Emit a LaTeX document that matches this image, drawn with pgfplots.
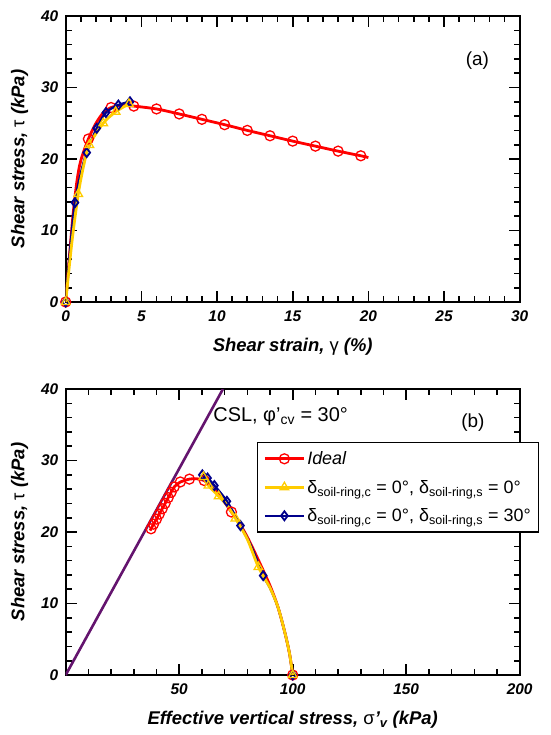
\documentclass[border=0pt]{standalone}
\usepackage{fontspec}
\setmainfont{Liberation Sans}
\usepackage{pgfplots}
\pgfplotsset{compat=1.18}

\definecolor{myred}{RGB}{255,0,0}
\definecolor{myyellow}{RGB}{255,204,0}
\definecolor{mynavy}{RGB}{0,0,140}
\definecolor{mypurple}{RGB}{100,20,110}

\pgfplotsset{
  common/.style={
    scale only axis, width=454bp, height=286bp,
    axis line style={line width=2bp},
    every tick/.style={line width=1.6bp, black},
    major tick length=11bp, minor tick length=6bp,
    tick align=inside,
    tick label style={font=\fontsize{15.5}{16}\selectfont\bfseries\itshape},
    /pgf/number format/assume math mode=true,
    xticklabel style={yshift=-5bp},
    yticklabel style={xshift=-4bp},
    ymin=0, ymax=40, ytick={0,10,20,30,40}, minor y tick num=4,
    every axis y label/.style={at={([xshift=-46bp]axis description cs:0,0.5)}, anchor=center, rotate=90,
      font=\fontsize{18.5}{19}\selectfont\bfseries\itshape},
    every axis x label/.style={at={([yshift=-45bp]axis description cs:0.5,0)}, anchor=center,
      font=\fontsize{18.5}{19}\selectfont\bfseries\itshape},
    legend image code/.code={
      \draw[#1,mark=none] (0bp,0bp) -- (39bp,0bp);
      \draw[#1,only marks] plot coordinates {(19.5bp,0bp)};
    },
  },
  redline/.style={myred, line width=2.8bp, mark=none, smooth},
  redmarks/.style={myred, only marks, mark=o, mark size=5bp, mark options={line width=1.3bp, fill=none}},
  yelline/.style={myyellow, line width=2.8bp, mark=none, smooth},
  yelmarks/.style={myyellow, only marks, mark=triangle, mark size=5bp, mark options={line width=1.3bp}},
  blueline/.style={mynavy, line width=2.4bp, mark=none, smooth},
  bluemarks/.style={mynavy, only marks, mark=diamond, mark size=4.5bp, mark options={line width=1.8bp}},
}

\begin{document}
\begin{tikzpicture}
\path[use as bounding box] (-65.7bp,-433bp) rectangle (485.3bp,302bp);

% ---------------- (a) ----------------
\begin{axis}[common,
  at={(0,0)}, anchor=south west,
  xmin=0, xmax=30, xtick={0,5,...,30}, minor x tick num=4,
  xlabel={Shear strain, {\mdseries\upshape γ} (\%)},
  ylabel={Shear stress, {\mdseries\upshape τ} (kPa)},
]
\addplot[redline] coordinates {(0,0) (0.25,6.5) (0.5,12.5) (0.75,17) (1.0,19.8) (1.5,22.8) (2,25) (2.5,26.5) (3,27.2) (3.5,27.45) (4,27.5) (4.5,27.4) (6,27.0) (7.5,26.3) (9,25.55) (10.5,24.8) (12,24.0) (13.5,23.25) (15,22.5) (16.5,21.8) (18,21.1) (19.5,20.45) (20,20.2)};
\addplot[redmarks] coordinates {(0,0) (1.5,22.8) (3,27.2) (4.5,27.4) (6,27.0) (7.5,26.3) (9,25.55) (10.5,24.8) (12,24.0) (13.5,23.25) (15,22.5) (16.5,21.8) (18,21.1) (19.5,20.45)};
\addplot[blueline] coordinates {(0,0) (0.3,7.5) (0.61,13.9) (1.0,18.0) (1.39,20.9) (2.05,24.3) (2.66,26.5) (3.48,27.55) (4.25,28.0)};
\addplot[bluemarks] coordinates {(0,0) (0.61,13.9) (1.39,20.9) (2.05,24.3) (2.66,26.5) (3.48,27.55) (4.25,28.0)};
\addplot[yelline] coordinates {(0,0) (0.4,8.2) (0.83,15.1) (1.2,19.2) (1.56,21.96) (2.48,25.0) (3.3,26.6) (4.18,27.7)};
\addplot[yelmarks] coordinates {(0,0) (0.83,15.1) (1.56,21.96) (2.48,25.0) (3.3,26.6) (4.18,27.7)};
\node[font=\fontsize{19}{20}\selectfont] at (axis cs:27.2,33.8) {(a)};
\end{axis}

% ---------------- (b) ----------------
\begin{axis}[common,
  at={(0,-373bp)}, anchor=south west,
  xmin=0, xmax=200, xtick={50,100,150,200}, minor xtick={10,20,30,40,60,70,80,90,110,120,130,140,160,170,180,190},
  xlabel={Effective vertical stress, {\mdseries\upshape σ}'\textsubscript{v} (kPa)},
  ylabel={Shear stress, {\mdseries\upshape τ} (kPa)},
  legend style={at={(0.421,0.815)}, anchor=north west, draw=black, line width=1.3bp,
    font=\fontsize{18}{19}\selectfont, row sep=10bp, inner xsep=6bp, inner ysep=7bp,
    /tikz/every even column/.style={column sep=6bp}},
  legend cell align=left,
]
\addplot[mypurple, line width=2.6bp, mark=none, forget plot] coordinates {(0,0) (69.28,40)};
\addplot[redline, forget plot] coordinates {(100,0) (98.6,3) (96.5,6) (93.5,9.5) (90,12.5) (85,16) (80,19.3) (76,21.5) (73,22.8) (69,24.6) (65,26.1) (61,27.2) (57.5,27.45) (54.5,27.4) (52.3,27.2) (50.5,27.0) (47.8,26.3) (46.45,25.55) (45.15,24.8) (43.8,24.0) (42.5,23.25) (41.2,22.5) (40.0,21.8) (38.7,21.1) (37.6,20.45) (37.2,20.2)};
\addplot[redmarks, forget plot] coordinates {(100,0) (73,22.8) (61,27.2) (54.5,27.4) (50.5,27.0) (47.8,26.3) (46.45,25.55) (45.15,24.8) (43.8,24.0) (42.5,23.25) (41.2,22.5) (40.0,21.8) (38.7,21.1) (37.6,20.45)};
\addplot[blueline, forget plot] coordinates {(100,0) (98.6,3) (96.5,6) (93.5,9.5) (90,12.2) (87,13.9) (82,17.8) (77,20.9) (71,24.3) (65.5,26.5) (62.5,27.55) (60.2,28.0)};
\addplot[bluemarks, forget plot] coordinates {(100,0) (87,13.9) (77,20.9) (71,24.3) (65.5,26.5) (62.5,27.55) (60.2,28.0)};
\addplot[yelline, forget plot] coordinates {(100,0) (98.6,3) (96.5,6) (93.5,9.5) (90,12.2) (84.9,15.1) (80,19) (74.8,21.9) (71,23.8) (67.4,25.0) (62.9,26.5) (60.7,27.7)};
\addplot[yelmarks, forget plot] coordinates {(100,0) (84.9,15.1) (74.8,21.9) (67.4,25.0) (62.9,26.5) (60.7,27.7)};
\addlegendimage{myred, line width=2.8bp, mark=o, mark size=5bp, mark options={line width=1.3bp}}
\addlegendentry{\itshape Ideal}
\addlegendimage{myyellow, line width=2.8bp, mark=triangle, mark size=5bp, mark options={line width=1.3bp}}
\addlegendentry{δ\textsubscript{soil-ring,c} = 0°, δ\textsubscript{soil-ring,s} = 0°}
\addlegendimage{mynavy, line width=2.4bp, mark=diamond, mark size=4.5bp, mark options={line width=1.8bp}}
\addlegendentry{δ\textsubscript{soil-ring,c} = 0°, δ\textsubscript{soil-ring,s} = 30°}
\node[font=\fontsize{20}{21}\selectfont, anchor=west] at (axis cs:63.5,36.1) {CSL, φ'\textsubscript{cv} = 30°};
\node[font=\fontsize{19}{20}\selectfont] at (axis cs:179.4,35.3) {(b)};
\end{axis}
\end{tikzpicture}
\end{document}
